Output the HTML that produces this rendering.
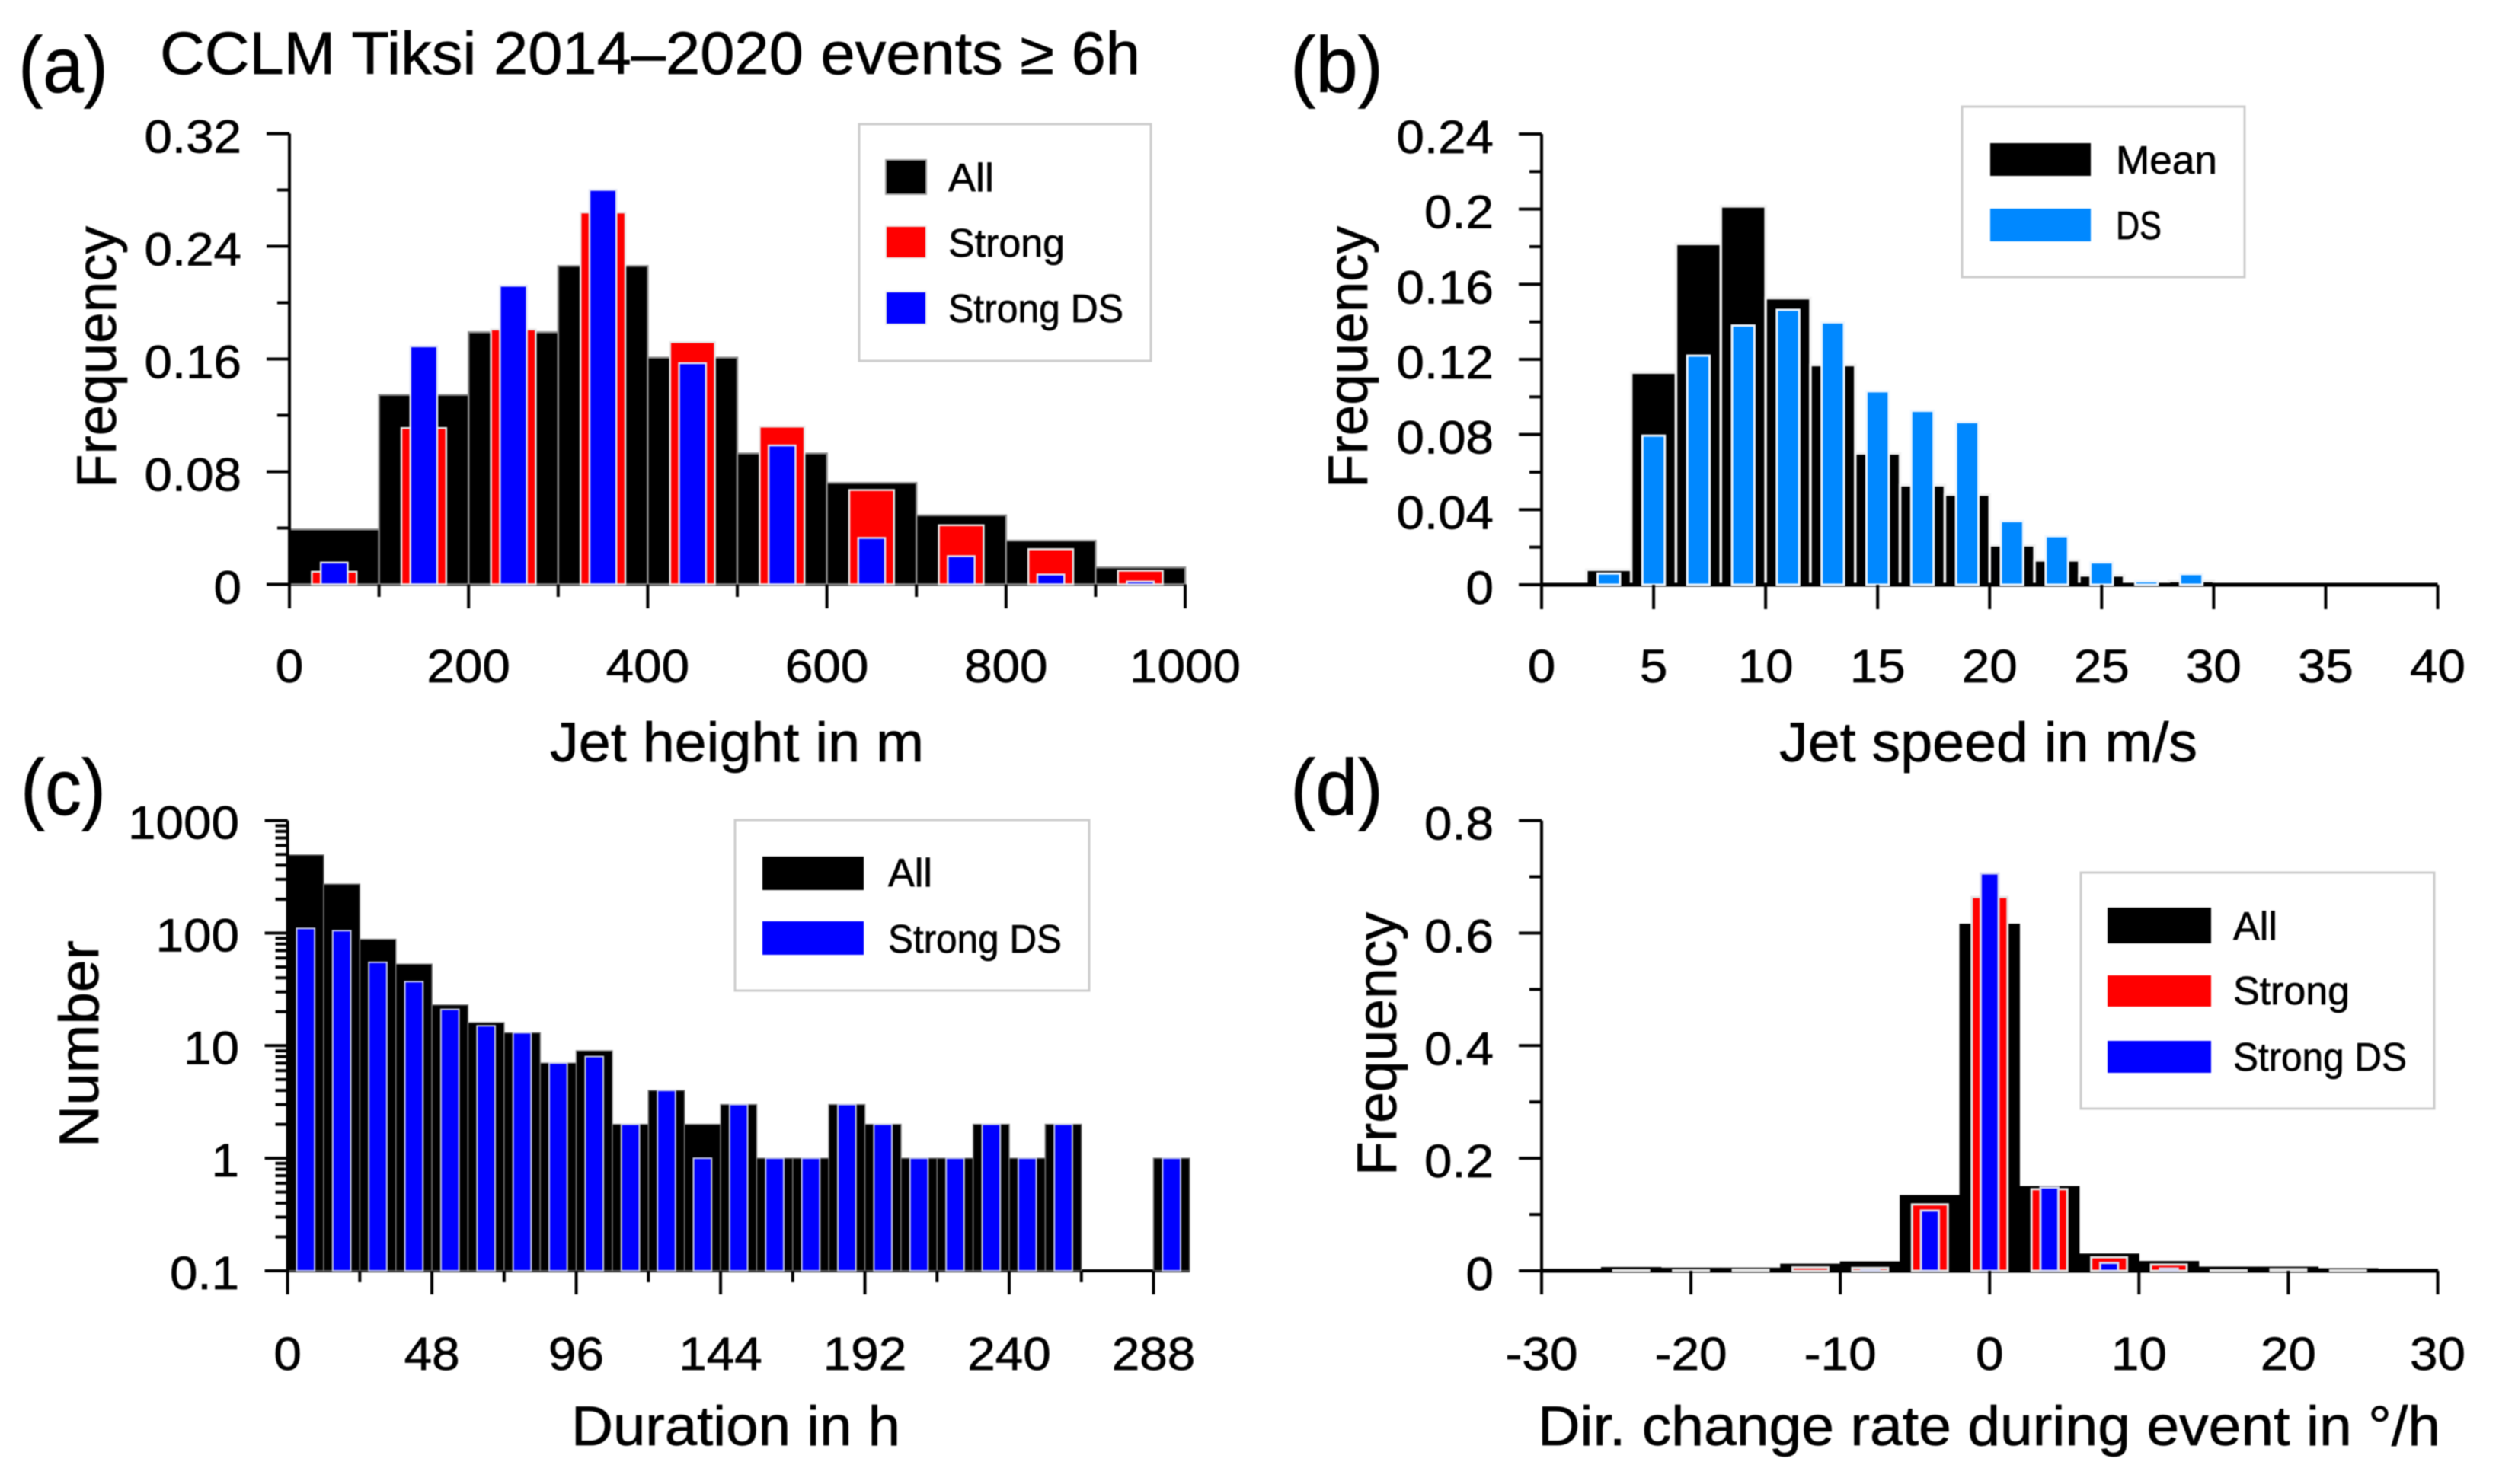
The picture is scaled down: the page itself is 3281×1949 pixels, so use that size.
<!DOCTYPE html>
<html lang="en">
<head>
<meta charset="utf-8">
<title>CCLM Tiksi 2014–2020 events histograms</title>
<style>
html,body{margin:0;padding:0;background:#fff;width:3281px;height:1949px;overflow:hidden}
svg{display:block;filter:blur(0.9px)}
text{font-family:"Liberation Sans",sans-serif;fill:#000;stroke:#000;stroke-width:0.7px}
.panel-letter{font-size:104px}
.title{font-size:79px}
.axis-title{font-size:73px}
.legend-text{font-size:52px}
.tick{font-size:61px}
</style>
</head>
<body>
<svg id="fig" xmlns="http://www.w3.org/2000/svg" width="3281" height="1949" viewBox="0 0 3281 1949">
  <rect x="0" y="0" width="3281" height="1949" fill="#fff"/>
  <g id="panelA"></g>
  <g id="panelB"></g>
  <g id="panelC"></g>
  <g id="panelD"></g>

  <text class="panel-letter" x="24" y="121" textLength="118" lengthAdjust="spacingAndGlyphs">(a)</text>
  <text class="panel-letter" x="1694" y="121" textLength="122" lengthAdjust="spacingAndGlyphs">(b)</text>
  <text class="panel-letter" x="27" y="1070" textLength="112" lengthAdjust="spacingAndGlyphs">(c)</text>
  <text class="panel-letter" x="1694" y="1070" textLength="122" lengthAdjust="spacingAndGlyphs">(d)</text>
  <text class="title" x="210" y="97" textLength="1287" lengthAdjust="spacingAndGlyphs">CCLM Tiksi 2014–2020 events ≥ 6h</text>

  <text class="axis-title" x="722" y="1000" textLength="491" lengthAdjust="spacingAndGlyphs">Jet height in m</text>
  <text class="axis-title" x="2336" y="1000" textLength="549" lengthAdjust="spacingAndGlyphs">Jet speed in m/s</text>
  <text class="axis-title" x="750" y="1898" textLength="432" lengthAdjust="spacingAndGlyphs">Duration in h</text>
  <text class="axis-title" x="2019" y="1898" textLength="1185" lengthAdjust="spacingAndGlyphs">Dir. change rate during event in °/h</text>

  <text class="axis-title" text-anchor="middle" transform="translate(152,469) rotate(-90)" textLength="344" lengthAdjust="spacingAndGlyphs">Frequency</text>
  <text class="axis-title" text-anchor="middle" transform="translate(1795,469) rotate(-90)" textLength="344" lengthAdjust="spacingAndGlyphs">Frequency</text>
  <text class="axis-title" text-anchor="middle" transform="translate(129,1371) rotate(-90)" textLength="272" lengthAdjust="spacingAndGlyphs">Number</text>
  <text class="axis-title" text-anchor="middle" transform="translate(1833,1371) rotate(-90)" textLength="346" lengthAdjust="spacingAndGlyphs">Frequency</text>

  <g>
    <rect x="1128" y="163" width="383" height="311" fill="#fff" stroke="#ccc" stroke-width="3"/>
    <rect x="1163" y="210" width="53" height="45" fill="#000" stroke="#999" stroke-width="2"/>
    <text class="legend-text" x="1245" y="251" textLength="60" lengthAdjust="spacingAndGlyphs">All</text>
    <rect x="1163" y="297" width="53" height="42" fill="#f00" stroke="#eee" stroke-width="2"/>
    <text class="legend-text" x="1245" y="337" textLength="153" lengthAdjust="spacingAndGlyphs">Strong</text>
    <rect x="1163" y="383" width="53" height="43" fill="#00f" stroke="#eee" stroke-width="2"/>
    <text class="legend-text" x="1245" y="423" textLength="230" lengthAdjust="spacingAndGlyphs">Strong DS</text>
  </g>
  <g>
    <rect x="2576" y="140" width="371" height="224" fill="#fff" stroke="#ccc" stroke-width="3"/>
    <rect x="2613" y="188" width="132" height="43" fill="#000"/>
    <text class="legend-text" x="2778" y="228" textLength="133" lengthAdjust="spacingAndGlyphs">Mean</text>
    <rect x="2613" y="274" width="132" height="43" fill="#0088ff"/>
    <text class="legend-text" x="2778" y="314" textLength="60" lengthAdjust="spacingAndGlyphs">DS</text>
  </g>
  <g>
    <rect x="965" y="1077" width="465" height="224" fill="#fff" stroke="#ccc" stroke-width="3"/>
    <rect x="1001" y="1125" width="133" height="44" fill="#000"/>
    <text class="legend-text" x="1166" y="1164" textLength="58" lengthAdjust="spacingAndGlyphs">All</text>
    <rect x="1001" y="1210" width="133" height="44" fill="#00f"/>
    <text class="legend-text" x="1166" y="1251" textLength="228" lengthAdjust="spacingAndGlyphs">Strong DS</text>
  </g>
  <g>
    <rect x="2732" y="1146" width="464" height="310" fill="#fff" stroke="#ccc" stroke-width="3"/>
    <rect x="2767" y="1192" width="136" height="47" fill="#000"/>
    <text class="legend-text" x="2932" y="1234" textLength="58" lengthAdjust="spacingAndGlyphs">All</text>
    <rect x="2767" y="1281" width="136" height="41" fill="#f00"/>
    <text class="legend-text" x="2932" y="1319" textLength="153" lengthAdjust="spacingAndGlyphs">Strong</text>
    <rect x="2767" y="1367" width="136" height="42" fill="#00f"/>
    <text class="legend-text" x="2932" y="1406" textLength="228" lengthAdjust="spacingAndGlyphs">Strong DS</text>
  </g>
</svg>

<script>
// Panel (a) jet height
const heightBinStart = [0,100,200,300,400,500,600,700,800,900];
const heightAll = [0.039,0.1345,0.179,0.226,0.161,0.093,0.072,0.049,0.031,0.012];
const heightStrong = [0.009,0.111,0.181,0.264,0.172,0.112,0.067,0.042,0.025,0.0097];
const heightStrongDS = [0.0155,0.169,0.212,0.280,0.157,0.0986,0.033,0.020,0.007,0.002];
const heightXTickLabels = ["0","200","400","600","800","1000"];
const heightYTickLabels = ["0","0.08","0.16","0.24","0.32"];

// Panel (b) jet speed
const speedBinStart = [2,4,6,8,10,12,14,16,18,20,22,24,26,28];
const speedMean = [0.008,0.113,0.1815,0.2015,0.1526,0.117,0.070,0.053,0.048,0.021,0.013,0.005,0.001,0.002];
const speedDS = [0.006,0.0794,0.122,0.138,0.1464,0.1397,0.103,0.0926,0.0866,0.0339,0.0259,0.0119,0.0018,0.0057];
const speedXTickLabels = ["0","5","10","15","20","25","30","35","40"];
const speedYTickLabels = ["0","0.04","0.08","0.12","0.16","0.2","0.24"];

// Panel (c) duration
const durationBinStart = [0,12,24,36,48,60,72,84,96,108,120,132,144,156,168,180,192,204,216,228,240,252,264,276,288];
const durationAll = [494,272,88,53,23,16,13,7,9,2,4,2,3,1,1,3,2,1,1,2,1,2,0,0,1];
const durationStrongDS = [110,105,55,37,21,15,13,7,8,2,4,1,3,1,1,3,2,1,1,2,1,2,0,0,1];
const durationXTickLabels = ["0","48","96","144","192","240","288"];
const durationYTickLabels = ["0.1","1","10","100","1000"];

// Panel (d) direction change rate
const dirBinCenter = [-28,-24,-20,-16,-12,-8,-4,0,4,8,12,16,20,24,28];
const dirAll = [0.003,0.006,0.005,0.005,0.012,0.016,0.134,0.616,0.15,0.03,0.0167,0.0067,0.0067,0.004,0.003];
const dirStrong = [0,0.001,0.001,0.002,0.006,0.005,0.118,0.664,0.145,0.024,0.011,0.001,0.003,0.001,0];
const dirStrongDS = [0,0,0,0,0,0.002,0.107,0.706,0.148,0.014,0.004,0,0,0,0];
const dirXTickLabels = ["-30","-20","-10","0","10","20","30"];
const dirYTickLabels = ["0","0.2","0.4","0.6","0.8"];

const NS = "http://www.w3.org/2000/svg";
function mk(parent, tag, props) {
  const el = document.createElementNS(NS, tag);
  for (const k in props) el.setAttribute(k, props[k]);
  parent.appendChild(el);
  return el;
}
function labelWidth(s) {
  let w = 0;
  for (const c of s) w += c === "." ? 18 : c === "-" ? 22 : 36.5;
  return w;
}
function linear(d0, d1, r0, r1) {
  return v => r0 + (v - d0) * (r1 - r0) / (d1 - d0);
}
function drawBar(parent, x0, x1, yTop, yBase, fill, stroke, sw) {
  return mk(parent, "rect", {x:x0, y:yTop, width:x1-x0, height:Math.max(0,yBase-yTop), fill:fill, stroke:stroke, "stroke-width":sw});
}
function drawLine(parent, x1, y1, x2, y2, sw) {
  return mk(parent, "line", {x1:x1, y1:y1, x2:x2, y2:y2, stroke:"#000", "stroke-width":sw});
}
function drawXTickLabel(parent, s, x, y) {
  const t = mk(parent, "text", {class:"tick", x:x, y:y, "text-anchor":"middle", textLength:labelWidth(s), lengthAdjust:"spacingAndGlyphs"});
  t.textContent = s;
  return t;
}
function drawYTickLabel(parent, s, x, y) {
  const t = mk(parent, "text", {class:"tick", x:x, y:y, "text-anchor":"end", textLength:labelWidth(s), lengthAdjust:"spacingAndGlyphs"});
  t.textContent = s;
  return t;
}

/* ---------- Panel A ---------- */
(function () {
  const g = document.getElementById("panelA");
  const X = linear(0, 1000, 380, 1556);
  const Y = linear(0, 0.32, 767.5, 175.5);
  const binW = 100;
  const axis = drawLine(g, X(0), Y(0), X(1000), Y(0), 4);
  
  
  heightBinStart.forEach((s, i) => {
    const b = drawBar(g, X(s), X(s + binW), Y(heightAll[i]), Y(0), "#000", "#8a8a8a", 2.5);
    
    
  });
  heightBinStart.forEach((s, i) => {
    const c = s + binW / 2;
    const b = drawBar(g, X(c - 25), X(c + 25), Y(heightStrong[i]), Y(0), "#f00", "#e8e8e8", 2.5);
    
    
  });
  heightBinStart.forEach((s, i) => {
    const c = s + binW / 2;
    const b = drawBar(g, X(c - 15), X(c + 15), Y(heightStrongDS[i]), Y(0), "#00f", "#dfe3f5", 2.5);
    
    
  });
  const yAxis = drawLine(g, X(0), Y(0.32), X(0), Y(0), 4);
  
  
  heightXTickLabels.forEach(s => {
    const v = Number(s);
    const tk = drawLine(g, X(v), Y(0), X(v), 799, 4);
    
    
    const l = drawXTickLabel(g, s, X(v), 896);
    
    
    if (v < 1000) {
      const m = drawLine(g, X(v + 100), Y(0), X(v + 100), 784, 4);
      
      
    }
  });
  heightYTickLabels.forEach(s => {
    const v = Number(s);
    const tk = drawLine(g, X(0) - 30, Y(v), X(0), Y(v), 4);
    
    
    const l = drawYTickLabel(g, s, 317, Y(v) + 25);
    
    
    if (v < 0.32) {
      const m = drawLine(g, X(0) - 16, Y(v + 0.04), X(0), Y(v + 0.04), 4);
      
      
    }
  });
})();

/* ---------- Panel B ---------- */
(function () {
  const g = document.getElementById("panelB");
  const X = linear(0, 40, 2024, 3200.5);
  const Y = linear(0, 0.24, 768, 176);
  const binW = 2;
  speedBinStart.forEach((s, i) => {
    const b = drawBar(g, X(s), X(s + binW), Y(speedMean[i]), Y(0), "#000", "#f2f2f2", 3.5);
    
    
  });
  const axis = drawLine(g, X(0), Y(0), X(40), Y(0), 5);
  
  
  speedBinStart.forEach((s, i) => {
    const c = s + binW / 2;
    const b = drawBar(g, X(c - 0.5), X(c + 0.5), Y(speedDS[i]), Y(0), "#0088ff", "#eef6ff", 3);
    
    
  });
  const yAxis = drawLine(g, X(0), Y(0.24), X(0), Y(0), 4);
  
  
  speedXTickLabels.forEach(s => {
    const v = Number(s);
    const tk = drawLine(g, X(v), Y(0), X(v), 800, 4);
    
    
    const l = drawXTickLabel(g, s, X(v), 896);
    
    
  });
  speedYTickLabels.forEach(s => {
    const v = Number(s);
    const tk = drawLine(g, X(0) - 30, Y(v), X(0), Y(v), 4);
    
    
    const l = drawYTickLabel(g, s, 1961, Y(v) + 25);
    
    
    if (v < 0.24) {
      const m = drawLine(g, X(0) - 16, Y(v + 0.02), X(0), Y(v + 0.02), 4);
      
      
    }
  });
})();

/* ---------- Panel C ---------- */
(function () {
  const g = document.getElementById("panelC");
  const X = linear(0, 288, 377.6, 1514.5);
  const logY = linear(-1, 3, 1669, 1077.6);
  const Y = v => logY(Math.log10(v));
  const binW = 12;
  const axis = drawLine(g, X(0), Y(0.1), X(300), Y(0.1), 4);
  
  
  durationBinStart.forEach((s, i) => {
    if (durationAll[i] <= 0) return;
    const b = drawBar(g, X(s), X(s + binW), Y(durationAll[i]), Y(0.1), "#000", "#777", 1.5);
    
    
  });
  durationBinStart.forEach((s, i) => {
    if (durationStrongDS[i] <= 0) return;
    const c = s + binW / 2;
    const b = drawBar(g, X(c - 3), X(c + 3), Y(durationStrongDS[i]), Y(0.1), "#00f", "#c6cbe8", 2);
    
    
  });
  const yAxis = drawLine(g, X(0), Y(1000), X(0), Y(0.1), 4);
  
  
  durationXTickLabels.forEach(s => {
    const v = Number(s);
    const tk = drawLine(g, X(v), Y(0.1), X(v), 1700, 4);
    
    
    const l = drawXTickLabel(g, s, X(v), 1799);
    
    
    if (v < 288) {
      const m = drawLine(g, X(v + 24), Y(0.1), X(v + 24), 1684, 4);
      
      
    }
  });
  durationYTickLabels.forEach(s => {
    const v = Number(s);
    const tk = drawLine(g, X(0) - 30, Y(v), X(0), Y(v), 4);
    
    
    const l = drawYTickLabel(g, s, 314, Y(v) + 24);
    
    
    if (v < 1000) {
      for (let k = 2; k <= 9; k++) {
        const m = drawLine(g, X(0) - 16, Y(v * k), X(0), Y(v * k), 4);
        
        
      }
    }
  });
})();

/* ---------- Panel D ---------- */
(function () {
  const g = document.getElementById("panelD");
  const X = linear(-30, 30, 2024, 3200.5);
  const Y = linear(0, 0.8, 1669, 1077.6);
  const binHalf = 2;
  const axis = drawLine(g, X(-30), Y(0), X(30), Y(0), 5);
  
  
  dirBinCenter.forEach((c, i) => {
    const b = drawBar(g, X(c - binHalf), X(c + binHalf), Y(dirAll[i]), Y(0), "#000", "#000", 1);
    
    
  });
  dirBinCenter.forEach((c, i) => {
    if (dirStrong[i] <= 0) return;
    const b = drawBar(g, X(c - 1.2), X(c + 1.2), Y(dirStrong[i]), Y(0), "#f00", "#e4e4e4", 3);
    
    
  });
  dirBinCenter.forEach((c, i) => {
    if (dirStrongDS[i] <= 0) return;
    const b = drawBar(g, X(c - 0.6), X(c + 0.6), Y(dirStrongDS[i]), Y(0), "#00f", "#d5d8f0", 3);
    
    
  });
  const yAxis = drawLine(g, X(-30), Y(0.8), X(-30), Y(0), 4);
  
  
  dirXTickLabels.forEach(s => {
    const v = Number(s);
    const tk = drawLine(g, X(v), Y(0), X(v), 1700, 4);
    
    
    const l = drawXTickLabel(g, s, X(v), 1799);
    
    
  });
  dirYTickLabels.forEach(s => {
    const v = Number(s);
    const tk = drawLine(g, X(-30) - 30, Y(v), X(-30), Y(v), 4);
    
    
    const l = drawYTickLabel(g, s, 1961, Y(v) + 25);
    
    
    if (v < 0.8) {
      const m = drawLine(g, X(-30) - 16, Y(v + 0.1), X(-30), Y(v + 0.1), 4);
      
      
    }
  });
})();
</script>
</body>
</html>
